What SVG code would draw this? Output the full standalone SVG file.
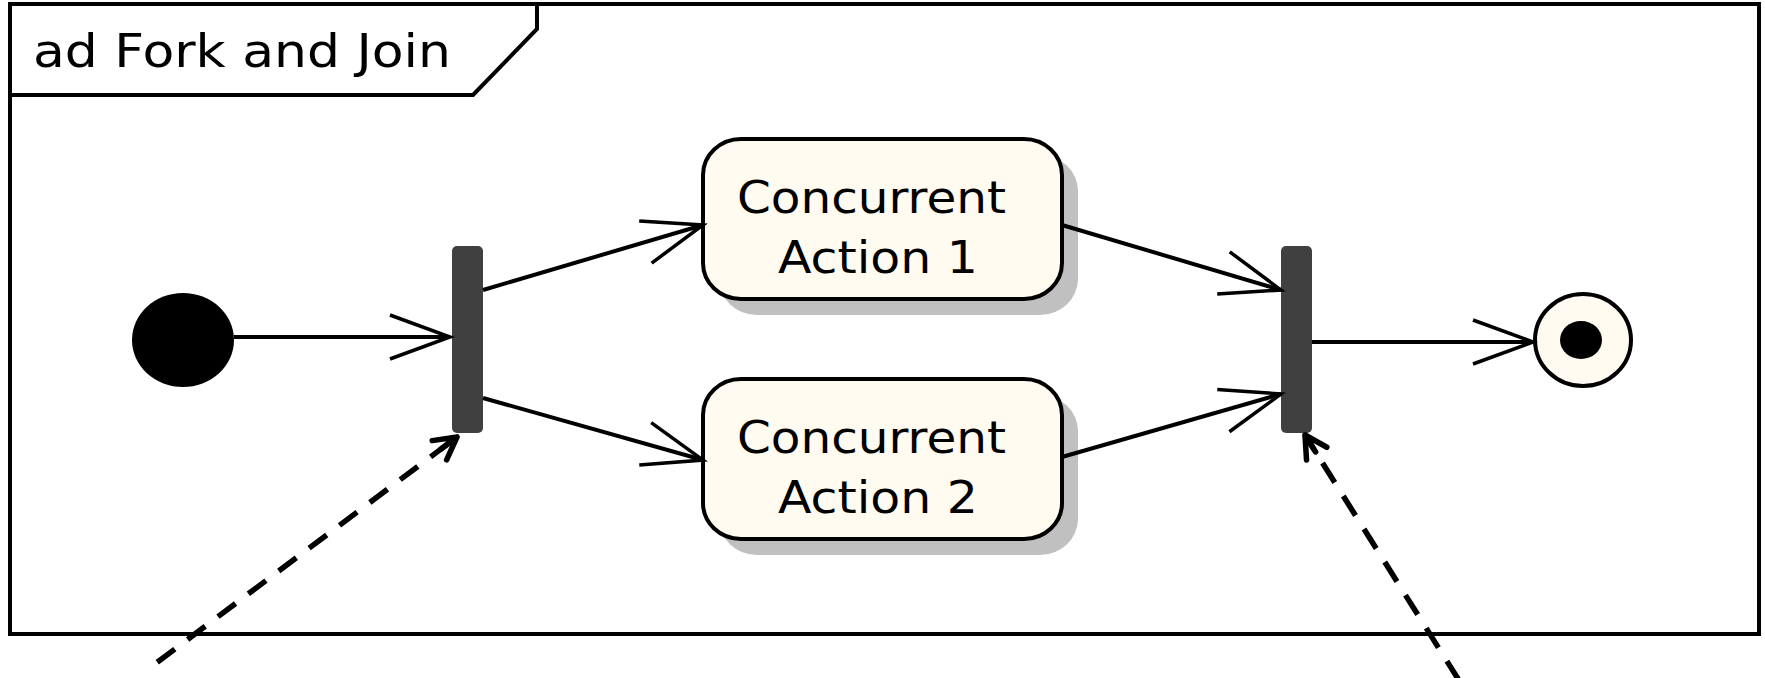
<svg xmlns="http://www.w3.org/2000/svg" width="1765" height="678" viewBox="0 0 1765 678">
  <style>
    .frame { fill: #ffffff; stroke: #000000; stroke-width: 4; }
    .tab { fill: none; stroke: #000000; stroke-width: 4; stroke-linejoin: miter; }
    .title { font-family: "DejaVu Sans", "Liberation Sans", sans-serif; font-size: 47px; fill: #000000; }
    .label { font-family: "DejaVu Sans", "Liberation Sans", sans-serif; font-size: 44px; fill: #000000; }
    .action { fill: #fffbf0; stroke: #000000; stroke-width: 4; }
    .shadow { fill: #c0c0c0; stroke: none; }
    .bar { fill: #404040; stroke: none; }
    .flow { fill: none; stroke: #000000; stroke-width: 4; marker-end: url(#open); }
    .pointer { fill: none; stroke: #000000; stroke-width: 5.5; marker-end: url(#small); }
  </style>
  <defs>
    <marker id="open" viewBox="-70 -30 80 60" markerWidth="80" markerHeight="60" refX="0" refY="0" orient="auto" markerUnits="userSpaceOnUse" overflow="visible">
      <path d="M -60,-22 L 0,0 L -60,22" fill="none" stroke="#000000" stroke-width="3.5"/>
    </marker>
    <marker id="small" viewBox="-30 -20 40 40" markerWidth="40" markerHeight="40" refX="0" refY="0" orient="auto" markerUnits="userSpaceOnUse" overflow="visible">
      <path d="M -22,-12 L 0,0 L -22,12 M -20,0 L 0,0" fill="none" stroke="#000000" stroke-width="5.5" stroke-linecap="round" stroke-linejoin="round"/>
    </marker>
  </defs>

  <rect x="0" y="0" width="1765" height="678" fill="#ffffff"/>

  <!-- diagram frame with its name tab -->
  <g id="frame">
    <rect class="frame" x="10" y="4" width="1749" height="630"/>
    <path class="tab" d="M 10,95 L 473,95 L 537,29 L 537,4"/>
    <text class="title" x="33" y="67" textLength="418" lengthAdjust="spacingAndGlyphs">ad Fork and Join</text>
  </g>

  <g id="initial">
    <ellipse cx="183" cy="340" rx="51" ry="47" fill="#000000"/>
  </g>

  <g id="fork">
    <rect class="bar" x="452" y="246" width="31" height="187" rx="5"/>
  </g>

  <g id="action1">
    <rect class="shadow" x="719" y="155" width="359" height="160" rx="38" ry="36"/>
    <rect class="action" x="703" y="139" width="359" height="160" rx="38" ry="36"/>
    <text class="label" x="737" y="213" textLength="269" lengthAdjust="spacingAndGlyphs">Concurrent</text>
    <text class="label" x="778" y="273" textLength="200" lengthAdjust="spacingAndGlyphs">Action 1</text>
  </g>

  <g id="action2">
    <rect class="shadow" x="719" y="395" width="359" height="160" rx="38" ry="36"/>
    <rect class="action" x="703" y="379" width="359" height="160" rx="38" ry="36"/>
    <text class="label" x="737" y="453" textLength="269" lengthAdjust="spacingAndGlyphs">Concurrent</text>
    <text class="label" x="778" y="513" textLength="200" lengthAdjust="spacingAndGlyphs">Action 2</text>
  </g>

  <g id="join">
    <rect class="bar" x="1281" y="246" width="31" height="187" rx="5"/>
  </g>

  <g id="final">
    <ellipse cx="1583" cy="340" rx="48" ry="46" fill="#fffbf0" stroke="#000000" stroke-width="4"/>
    <ellipse cx="1581" cy="340" rx="21" ry="19" fill="#000000"/>
  </g>

  <g id="connectors">
    <line class="flow" x1="234" y1="337" x2="450" y2="337"/>
    <line class="flow" x1="483" y1="290" x2="703" y2="225"/>
    <line class="flow" x1="483" y1="398" x2="703" y2="460"/>
    <line class="flow" x1="1062" y1="225" x2="1281" y2="290"/>
    <line class="flow" x1="1062" y1="457" x2="1281" y2="394"/>
    <line class="flow" x1="1312" y1="342" x2="1533" y2="342"/>
    <!-- pointers to the fork and join bars -->
    <line class="pointer" x1="155" y1="664" x2="457" y2="437" stroke-dasharray="22 16" stroke-dashoffset="35.2"/>
    <line class="pointer" x1="1460" y1="682" x2="1305" y2="435" stroke-dasharray="23 16" stroke-dashoffset="37.4"/>
  </g>
</svg>
